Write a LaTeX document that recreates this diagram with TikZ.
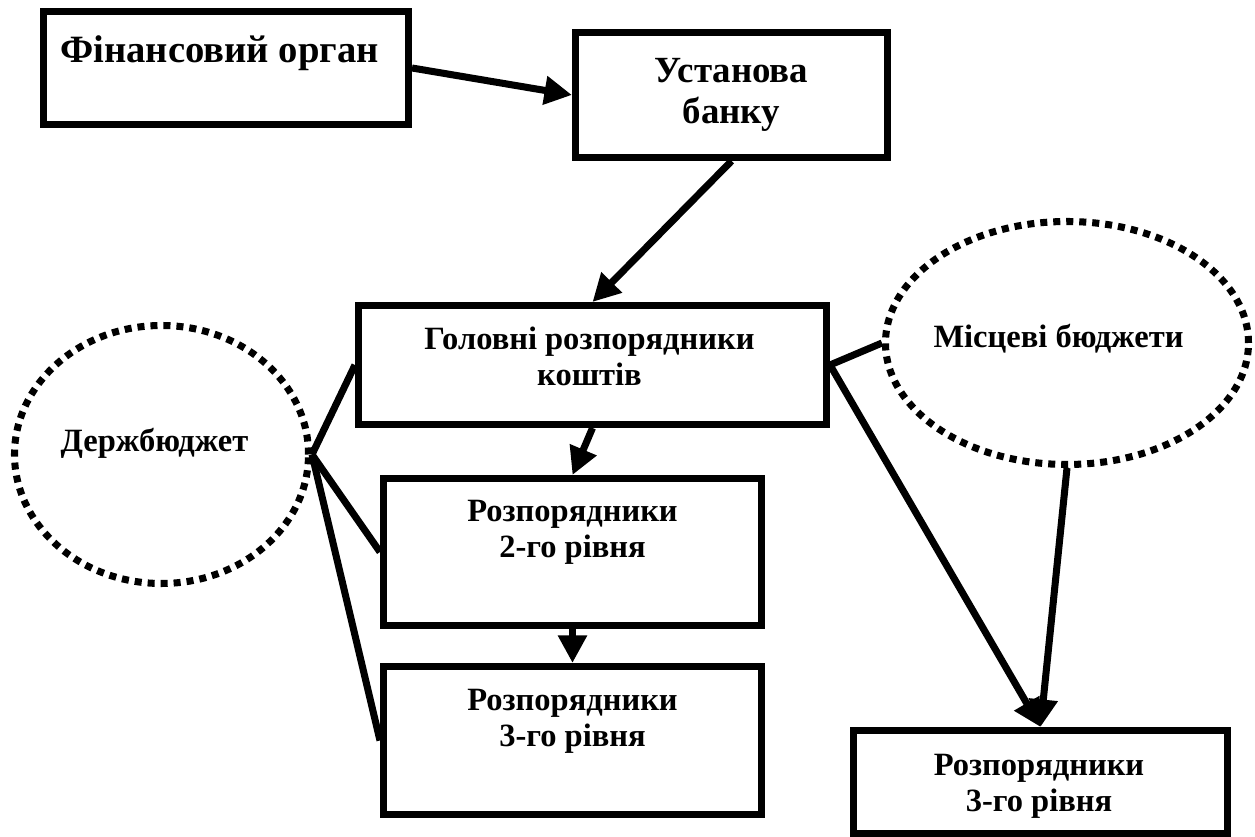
\documentclass[tikz,border=0pt]{standalone}
\usepackage{fontspec}
\setmainfont{Liberation Serif}
\usepackage{tikz}
\usetikzlibrary{arrows.meta,shapes.geometric}

\begin{document}
\begin{tikzpicture}[
box/.style={draw, rectangle, line width=4pt, inner sep=0pt},
budget/.style={draw, ellipse, line width=4pt, dash pattern=on 4pt off 3.4pt, inner sep=0pt},
txt/.style={font=\fontsize{18.5}{20.5}\selectfont\bfseries, align=center, inner sep=0pt},
link/.style={line width=4pt},
arr/.style={line width=4pt, -{Triangle[length=0.55cm,width=0.55cm]}}]
\useasboundingbox (0,0) rectangle (25.1,16.74);
\node [box, minimum width=7.30cm, minimum height=2.26cm] (fin) at (4.52,15.38) {};
\node [box, minimum width=6.24cm, minimum height=2.50cm] (bank) at (14.63,14.84) {};
\node [box, minimum width=9.36cm, minimum height=2.38cm] (head) at (11.85,9.44) {};
\node [box, minimum width=7.56cm, minimum height=2.94cm] (lvl2) at (11.45,5.70) {};
\node [box, minimum width=7.56cm, minimum height=2.96cm] (lvl3) at (11.45,1.93) {};
\node [box, minimum width=7.48cm, minimum height=2.06cm] (lvl3b) at (20.81,1.10) {};
\node [budget, minimum width=5.88cm, minimum height=5.16cm] (state) at (3.23,7.65) {};
\node [budget, minimum width=7.26cm, minimum height=4.86cm] (local) at (21.34,9.88) {};
\node [txt, font=\fontsize{22}{24}\selectfont\bfseries, anchor=base] (fintxt) at (4.39,15.48) {Фінансовий орган};
\node [txt, font=\fontsize{21}{23.5}\selectfont\bfseries] (banktxt) at (14.63,14.84) {Установа\\банку};
\node [txt] (headtxt) at (11.79,9.61) {Головні розпорядники\\коштів};
\node [txt] (lvl2txt) at (11.45,6.09) {Розпорядники\\2-го рівня};
\node [txt] (lvl3txt) at (11.45,2.32) {Розпорядники\\3-го рівня};
\node [txt] (lvl3btxt) at (20.78,1.02) {Розпорядники\\3-го рівня};
\node [txt, anchor=base] (statetxt) at (3.09,7.70) {Держбюджет};
\node [txt, anchor=base] (localtxt) at (21.17,9.78) {Місцеві бюджети};
\draw [arr] (fin.east) -- (bank.west);
\draw [arr] (bank.south) -- (head.north);
\draw [arr] (head.south) -- (lvl2.north);
\draw [arr] (lvl2.south) -- (lvl3.north);
\draw [arr] (head.east) -- (lvl3b.north);
\draw [arr] (local.south) -- (lvl3b.north);
\draw [link] (head.east) -- (local.west);
\draw [link] (state.east) -- (head.west);
\draw [link] (state.east) -- (lvl2.west);
\draw [link] (state.east) -- (lvl3.west);
\end{tikzpicture}
\end{document}
